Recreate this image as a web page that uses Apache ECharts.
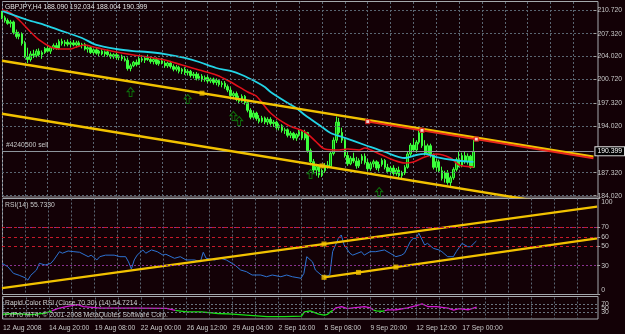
<!DOCTYPE html>
<html><head><meta charset="utf-8">
<script src="https://cdn.jsdelivr.net/npm/echarts@6/dist/echarts.min.js"></script>
<style>html,body{margin:0;padding:0;background:#130106;}#c{width:625px;height:334px;}</style>
</head><body><div id="c"></div>
<script>
// ---------- data ----------
const timeLabels = ['12 Aug 2008','14 Aug 20:00','19 Aug 08:00','22 Aug 00:00','26 Aug 12:00','29 Aug 04:00','2 Sep 16:00','5 Sep 08:00','9 Sep 20:00','12 Sep 12:00','17 Sep 00:00'];
const barsPerLabel = 16;
const slotCount = 208;
const priceTicks = [210.72, 207.32, 204.02, 200.72, 197.32, 194.02, 187.32, 184.02];
const rsiTicks = [0, 30, 50, 60, 70, 100];
const crsiTicks = [0, 30, 50, 70, 100];
const bidPrice = 190.399;
const titleText = 'GBPJPY,H4 188.090 192.034 188.004 190.399';
const orderText = '#4240500 sell';
const rsiText = 'RSI(14) 55.7330';
const crsiText = 'Rapid Color RSI (Close,70,30) (14) 54.7214';
const copyText = 'FxPro MT4, \u00a9 2001-2008 MetaQuotes Software Corp.';

// candles: [open, close, low, high]
const candles = [
[210.3,209.6,209.4,210.6],[209.6,209.2,208.9,209.9],[209.2,208.8,208.6,209.5],[208.8,209.0,208.2,209.3],
[209.0,207.5,207.2,209.2],[207.5,206.9,206.6,207.9],[206.9,207.3,206.5,207.6],[207.3,205.9,205.6,207.5],
[205.9,204.0,203.8,206.3],[204.0,203.6,203.1,205.3],[203.6,204.4,203.3,204.8],[204.4,204.2,203.8,205.0],
[204.2,204.8,203.9,205.1],[204.8,204.3,204.0,205.2],[204.3,204.6,203.7,204.9],[204.6,205.2,204.4,205.4],
[205.2,204.8,204.6,205.6],[204.8,205.3,204.4,205.5],[205.3,205.6,205.0,205.9],[205.6,205.2,205.0,206.0],
[205.2,206.2,205.0,206.5],[206.2,205.9,205.6,206.6],[205.9,206.1,205.5,206.4],[206.1,205.8,205.5,206.5],
[205.8,206.0,205.4,206.3],[206.0,205.7,205.5,206.4],[205.7,206.0,205.3,206.3],[206.0,205.6,205.4,206.3],
[205.6,205.8,205.2,206.0],[205.8,205.1,204.9,206.0],[205.1,205.3,204.6,205.5],[205.3,204.6,204.4,205.5],
[204.6,205.0,204.3,205.2],[205.0,204.5,204.3,205.3],[204.5,204.8,204.1,205.0],[204.8,204.4,204.2,205.1],
[204.4,204.7,204.0,204.9],[204.7,204.3,204.1,205.0],[204.3,204.0,203.7,204.6],[204.0,204.3,203.7,204.5],
[204.3,203.9,203.6,204.6],[203.9,204.1,203.5,204.3],[204.1,203.7,203.4,204.3],[203.7,203.5,203.3,204.1],
[203.5,202.3,202.0,203.9],[202.3,202.7,201.9,203.0],[202.7,203.2,202.5,203.4],[203.2,202.9,202.6,203.6],
[202.9,203.7,202.8,204.0],[203.7,203.5,203.2,204.2],[203.5,203.8,203.1,204.0],[203.8,203.6,203.4,204.3],
[203.6,203.3,203.0,204.1],[203.3,203.6,202.9,203.8],[203.6,203.0,202.8,203.9],[203.0,203.4,202.7,203.6],
[203.4,203.1,202.9,203.8],[203.1,202.7,202.4,203.4],[202.7,203.1,202.4,203.3],[203.1,202.6,202.3,203.4],
[202.6,202.2,201.9,202.9],[202.2,202.5,201.9,202.8],[202.5,201.9,201.6,202.7],[201.9,202.2,201.5,202.4],
[202.2,201.7,201.4,202.5],[201.7,201.9,201.3,202.2],[201.9,201.3,201.0,202.1],[201.3,201.5,200.9,201.8],
[201.5,200.9,200.6,201.8],[200.9,201.2,200.6,201.6],[201.2,200.7,200.4,201.5],[200.7,201.0,200.4,201.3],
[201.0,200.5,200.2,201.3],[200.5,200.8,200.2,201.0],[200.8,200.3,200.0,201.0],[200.3,200.6,199.9,200.9],
[200.6,200.0,199.7,200.8],[200.0,200.2,199.6,200.5],[200.2,199.7,199.4,200.5],[199.7,199.2,198.9,200.0],
[199.2,198.4,198.0,199.6],[198.4,198.7,197.9,199.0],[198.7,197.9,197.6,199.0],[197.9,197.6,197.3,198.4],
[197.6,198.3,197.4,198.6],[198.3,197.4,197.1,198.5],[197.4,196.3,196.0,197.6],[196.3,195.3,195.0,196.6],
[195.3,195.9,195.1,196.2],[195.9,195.1,194.8,196.1],[195.1,194.7,194.4,195.6],[194.7,195.2,194.5,195.5],
[195.2,194.6,194.3,195.4],[194.6,195.0,194.2,195.3],[195.0,194.4,194.1,195.3],[194.4,194.6,193.9,194.9],
[194.6,193.8,193.5,194.8],[193.8,194.1,193.4,194.4],[194.1,193.4,193.1,194.3],[193.4,193.5,192.9,193.8],
[193.5,192.7,192.4,193.7],[192.7,193.0,192.3,193.3],[193.0,192.3,192.0,193.2],[192.3,192.8,191.9,193.0],
[192.8,193.2,192.5,193.5],[193.2,192.3,192.0,193.4],[192.3,193.1,192.0,193.5],[193.1,190.5,190.2,193.2],
[190.5,188.9,188.4,190.8],[188.9,187.7,187.3,189.3],[187.7,188.2,186.9,188.6],[188.2,187.0,186.6,188.5],
[187.0,187.6,186.7,187.9],[187.6,188.4,187.3,188.7],[188.4,188.2,187.9,189.0],[188.2,190.1,188.0,190.4],
[190.1,192.0,189.8,192.4],[192.0,194.6,191.6,195.4],[194.6,193.1,192.8,195.2],[193.1,192.0,191.6,193.8],
[192.0,189.8,189.5,192.3],[189.8,188.6,188.3,190.3],[188.6,189.4,188.4,189.7],[189.4,189.0,188.7,190.2],
[189.0,188.3,187.9,189.6],[188.3,189.1,188.0,189.4],[189.1,189.7,188.6,190.0],[189.7,188.8,188.5,190.1],
[188.8,187.9,187.6,189.3],[187.9,188.6,187.6,188.9],[188.6,188.9,188.1,189.2],[188.9,188.0,187.7,189.1],
[188.0,188.5,187.5,188.9],[188.5,189.1,188.2,189.4],[189.1,188.1,187.8,189.3],[188.1,187.5,187.2,188.6],
[187.5,188.0,187.1,188.3],[188.0,187.2,186.9,188.4],[187.2,187.7,186.9,188.0],[187.7,186.9,186.6,188.2],
[186.9,187.3,186.3,187.6],[187.3,188.1,187.0,188.4],[188.1,190.0,187.9,190.3],[190.0,191.3,189.7,191.6],
[191.3,190.6,190.3,192.3],[190.6,191.7,190.2,192.0],[191.7,193.1,191.4,193.5],[193.1,191.2,190.9,193.3],
[191.2,190.1,189.8,192.0],[190.1,191.2,189.9,191.5],[191.2,189.8,189.5,191.5],[189.8,188.1,187.8,190.1],
[188.1,188.9,187.5,189.3],[188.9,187.6,187.3,189.2],[187.6,186.5,186.2,188.2],[186.5,187.3,185.9,187.6],
[187.3,185.9,185.6,187.7],[185.9,186.6,185.4,186.9],[186.6,187.8,186.3,188.1],[187.8,189.2,187.5,189.5],
[189.2,188.4,188.1,190.3],[188.4,189.8,188.1,190.2],[189.8,188.9,188.6,190.4],[188.9,189.7,188.5,190.1],
[189.7,188.09,187.9,189.9],[188.09,190.399,188.004,192.034]
];

// moving averages: [bar index, price]
const maRed = [[0,210.72],[3,210.29],[6,209.28],[10,207.56],[13,206.41],[17,205.40],[20,205.11],[24,205.11],[26,205.40],[29,205.69],[32,205.40],[35,205.11],[40,204.68],[46,204.25],[51,203.96],[57,203.53],[63,202.81],[69,202.09],[75,201.37],[80,200.37],[86,198.93],[89,198.35],[94,195.91],[100,194.19],[106,193.18],[110,191.74],[113,190.73],[118,190.59],[121,190.73],[125,190.59],[127,190.88],[129,190.59],[133,189.87],[137,189.15],[141,188.72],[144,188.87],[148,189.58],[152,190.02],[157,189.44],[160,188.43],[165,188.15]];
const maCyan = [[0,210.6],[9,209.28],[15,208.56],[20,207.84],[28,206.69],[33,205.69],[40,205.11],[46,204.82],[51,204.68],[57,204.39],[64,203.82],[69,203.24],[75,202.38],[80,201.95],[84,201.37],[89,200.37],[92,199.65],[94,198.93],[100,197.35],[103,196.63],[106,195.62],[112,193.90],[115,193.04],[120,192.32],[127,191.31],[134,190.30],[141,189.44],[145,189.87],[148,190.02],[152,189.58],[158,189.15],[165,188.87]];

// trend lines and marks: [bar index, price]
const upperTrend = [[0,203.42],[207,189.63]];
const redTrend = [[128,194.67],[207,189.41]];
const lowerTrend = [[0,195.80],[207,181.93]];
const yellowMarks = [[70,198.76],[112,188.30]];
const redMarks = [[128,194.67],[147,193.40],[166,192.14]];
const arrowMarks = [[45,198.93],[65,197.92],[81,195.48],[83,194.76],[108,187.14],[132,184.55]];

// RSI(14): [bar index, value]
const rsi = [[0,32.5],[2,29],[4,22],[6,20],[8,17.5],[9,15],[10,20],[12,25.5],[13,32.5],[15,30.7],[17,32.5],[18,36],[20,44.6],[21,43],[23,45.3],[25,44.6],[27,44],[30,39.4],[31,41],[33,36],[34,39.4],[36,41],[39,41],[41,39.4],[43,39.4],[44,34],[45,26.5],[46,36],[47,41],[49,46.4],[50,43],[52,46.4],[54,44.6],[56,41],[57,41.9],[60,37.7],[62,39.4],[64,36],[67,36],[69,34],[70,44],[71,37.7],[74,36],[76,37.7],[78,36],[81,30.7],[83,25.5],[85,23.8],[87,20.3],[90,20.3],[92,18.5],[94,20.3],[97,18.5],[99,20.3],[101,18.5],[104,16.9],[105,22],[106,39.4],[108,34],[109,25.5],[111,20.3],[112,18.5],[114,20.3],[115,44.6],[117,58.5],[118,62],[119,51.6],[121,43],[122,41],[125,44.6],[126,41],[128,44.6],[130,44.6],[133,46.4],[135,43],[137,39.4],[139,41],[140,43],[142,55],[143,58.5],[144,58.5],[145,63.8],[147,51.6],[148,53.3],[150,48.1],[152,46.4],[153,44.6],[155,39.4],[157,39.4],[158,44.6],[160,53.3],[162,49.8],[163,49.8],[165,55.733]];
const rsiLevelsRed = [70, 60, 50];
const rsiLevelsPurple = [70, 30];
const rsiTrendA = [[0,6.7],[207,91.5]];
const rsiTrendB = [[112,17.9],[207,58.5]];
const rsiMarks = [[112,52.6],[112,17.9],[124,23.0],[137,28.6]];

// Rapid Color RSI, segments by colour: [bar index, value]
const crsiGreenSegs = [
  [[0,22],[4,25.6],[10,20],[15,28],[17,38]],
  [[60,40.2],[64,33],[69,33],[75,25.6],[80,22.4],[92,11],[98,11],[104,13.6],[105,33],[107,37.6],[110,22.4],[112,18],[113,21],[114,33],[115,40]],
  [[129,42],[130,37.6],[132,36],[133,39]]
];
const crsiMagentaSegs = [
  [[17,38],[19,47.8],[22,58],[26,66.9],[28,58],[34,50.9],[46,50.9],[57,49],[60,40.2]],
  [[115,40],[116,52],[118,58],[120,47.8],[122,52],[126,58],[128,52],[129,42]],
  [[133,39],[134,42],[137,43],[141,52],[144,62.4],[146,70],[148,58],[151,58],[155,50.9],[157,41],[159,47.8],[162,43],[165,54.72]]
];
const crsiLevels = [70, 50, 30];

// ---------- chart ----------
const categories = [];
for (let i = 0; i < slotCount; i++) {
  categories.push(i % barsPerLabel === 0 && timeLabels[i / barsPerLabel] ? timeLabels[i / barsPerLabel] : '');
}

const FONT = 'Liberation Sans';
const FS = 6.8;
const TXT = '#c8c8c8';
const DOT = '#5a6672';
const YEL = '#f2c200';

function xAx(gi, showLabels) {
  return {
    type: 'category', gridIndex: gi, data: categories, boundaryGap: false,
    axisLine: {show: false}, axisTick: {show: false},
    axisLabel: showLabels ? {show: true, interval: 0, align: 'left', color: TXT, fontSize: FS, fontFamily: FONT, margin: 6} : {show: false},
    splitLine: {show: true, interval: (idx) => idx % 8 === 0, lineStyle: {color: DOT, type: [2, 2], width: 1}}
  };
}
function levelLines(values, color, type) {
  return {
    silent: true, symbol: 'none', animation: false, label: {show: false},
    lineStyle: {color: color, type: type, width: 1},
    data: values.map(v => ({yAxis: v}))
  };
}
const labelBase = {color: TXT, fontSize: FS, fontFamily: FONT};

const series = [
  {type: 'line', xAxisIndex: 0, yAxisIndex: 0, data: [], z: 1, markLine: levelLines(priceTicks, DOT, [2, 2])},
  {type: 'candlestick', xAxisIndex: 0, yAxisIndex: 0, data: candles, barWidth: 2, z: 3,
   itemStyle: {color: '#0a9a0a', color0: '#3cff3c', borderColor: '#3cff3c', borderColor0: '#3cff3c', borderWidth: 1},
   markLine: {silent: true, symbol: 'none', animation: false, lineStyle: {color: '#8d959c', type: 'solid', width: 1},
     data: [
       {yAxis: bidPrice, label: {show: true, position: 'end', formatter: bidPrice.toFixed(3), color: '#ffffff', backgroundColor: '#000000', borderColor: '#e0e0e0', borderWidth: 1, padding: [1, 2, 0, 2], fontSize: FS, fontFamily: FONT, distance: 2}},
       {yAxis: bidPrice, label: {show: true, position: 'insideStartTop', formatter: orderText, color: TXT, fontSize: FS, fontFamily: FONT, distance: [4, 3]}}
     ]}},
  {type: 'line', xAxisIndex: 0, yAxisIndex: 0, data: maRed, showSymbol: false, smooth: 0.3, z: 4, lineStyle: {color: '#e0101a', width: 1.6}},
  {type: 'line', xAxisIndex: 0, yAxisIndex: 0, data: maCyan, showSymbol: false, smooth: 0.3, z: 4, lineStyle: {color: '#22d4e6', width: 1.8}},
  {type: 'line', xAxisIndex: 0, yAxisIndex: 0, data: upperTrend, showSymbol: false, z: 5, lineStyle: {color: YEL, width: 2.4}},
  {type: 'line', xAxisIndex: 0, yAxisIndex: 0, data: redTrend, showSymbol: false, z: 5, lineStyle: {color: '#e8281e', width: 2}},
  {type: 'line', xAxisIndex: 0, yAxisIndex: 0, data: lowerTrend, showSymbol: false, z: 5, lineStyle: {color: YEL, width: 2.4}},
  {type: 'scatter', xAxisIndex: 0, yAxisIndex: 0, data: yellowMarks, symbol: 'rect', symbolSize: 5, z: 6, itemStyle: {color: YEL}},
  {type: 'scatter', xAxisIndex: 0, yAxisIndex: 0, data: redMarks, symbol: 'rect', symbolSize: 4, z: 6, itemStyle: {color: '#ffffff', borderColor: '#e01010', borderWidth: 1.2}},
  {type: 'scatter', xAxisIndex: 0, yAxisIndex: 0, data: arrowMarks, symbol: 'path://M5 0L10 5H7V11H3V5H0Z', symbolSize: [7, 9], z: 6,
   itemStyle: {color: 'rgba(0,0,0,0)', borderColor: '#0c8a0c', borderWidth: 1}},
  {type: 'line', xAxisIndex: 1, yAxisIndex: 1, data: [], z: 1, markLine: levelLines(rsiLevelsPurple, '#8a3290', [2, 2])},
  {type: 'line', xAxisIndex: 1, yAxisIndex: 1, data: [], z: 1, markLine: levelLines(rsiLevelsRed, '#c81a2a', [3, 3])},
  {type: 'line', xAxisIndex: 1, yAxisIndex: 1, data: rsi, showSymbol: false, z: 3, lineStyle: {color: '#2d72d2', width: 1}},
  {type: 'line', xAxisIndex: 1, yAxisIndex: 1, data: rsiTrendA, showSymbol: false, z: 4, lineStyle: {color: YEL, width: 2.4}},
  {type: 'line', xAxisIndex: 1, yAxisIndex: 1, data: rsiTrendB, showSymbol: false, z: 4, lineStyle: {color: YEL, width: 2.4}},
  {type: 'scatter', xAxisIndex: 1, yAxisIndex: 1, data: rsiMarks, symbol: 'rect', symbolSize: 5, z: 6, itemStyle: {color: YEL}},
  {type: 'line', xAxisIndex: 2, yAxisIndex: 2, data: [], z: 1, markLine: levelLines(crsiLevels, '#6a7480', [2, 2])}
];
crsiGreenSegs.forEach(seg => series.push({type: 'line', xAxisIndex: 2, yAxisIndex: 2, data: seg, showSymbol: false, z: 3, lineStyle: {color: '#18e018', width: 1.3}}));
crsiMagentaSegs.forEach(seg => series.push({type: 'line', xAxisIndex: 2, yAxisIndex: 2, data: seg, showSymbol: false, z: 3, lineStyle: {color: '#d018d0', width: 1.3}}));

const option = {
  backgroundColor: '#130106',
  animation: false,
  grid: [
    {left: 2, top: 2, width: 595.125, height: 195},
    {left: 2, top: 198.5, width: 595.125, height: 96},
    {left: 2, top: 297.5, width: 595.125, height: 21.5}
  ],
  xAxis: [xAx(0, false), xAx(1, false), xAx(2, true)],
  yAxis: [
    {type: 'value', gridIndex: 0, position: 'right', min: 183.83, max: 211.87,
     axisLine: {show: false}, splitLine: {show: false},
     axisTick: {show: true, customValues: priceTicks, length: 3, lineStyle: {color: '#a0a0a0'}},
     axisLabel: Object.assign({customValues: priceTicks, formatter: v => v.toFixed(3), margin: 4}, labelBase)},
    {type: 'value', gridIndex: 1, position: 'right', min: 0, max: 100,
     axisLine: {show: false}, splitLine: {show: false},
     axisTick: {show: true, customValues: rsiTicks, length: 3, lineStyle: {color: '#a0a0a0'}},
     axisLabel: Object.assign({customValues: rsiTicks, margin: 4,
       formatter: v => v === 100 ? '{t|100}' : (v === 0 ? '{b|0}' : String(v)),
       rich: {t: Object.assign({padding: [7, 0, 0, 0]}, labelBase), b: Object.assign({padding: [0, 0, 9, 0]}, labelBase)}}, labelBase)},
    {type: 'value', gridIndex: 2, position: 'right', min: 0, max: 100,
     axisLine: {show: false}, splitLine: {show: false},
     axisTick: {show: false},
     axisLabel: Object.assign({customValues: crsiTicks, margin: 4, hideOverlap: false,
       formatter: v => v === 100 ? '{t|100}' : (v === 0 ? '{b|0}' : String(v)),
       rich: {t: Object.assign({padding: [5, 0, 0, 0]}, labelBase), b: Object.assign({padding: [0, 0, 4, 0]}, labelBase)}}, labelBase)}
  ],
  series: series,
  graphic: [
    {type: 'rect', silent: true, shape: {x: 2.5, y: 1.5, width: 595.5, height: 195.5}, style: {fill: null, stroke: '#a4a8ac', lineWidth: 1}},
    {type: 'rect', silent: true, shape: {x: 2.5, y: 198.5, width: 595.5, height: 96}, style: {fill: null, stroke: '#a4a8ac', lineWidth: 1}},
    {type: 'rect', silent: true, shape: {x: 2.5, y: 296.5, width: 595.5, height: 22.5}, style: {fill: null, stroke: '#a4a8ac', lineWidth: 1}},
    {type: 'text', silent: true, x: 5, y: 7, z: 10, style: {text: titleText, fill: '#e4e4e4', font: FS + 'px "Liberation Sans"', verticalAlign: 'middle'}},
    {type: 'text', silent: true, x: 5, y: 205, z: 10, style: {text: rsiText, fill: TXT, font: FS + 'px "Liberation Sans"', verticalAlign: 'middle'}},
    {type: 'text', silent: true, x: 5, y: 303.5, z: 10, style: {text: crsiText, fill: TXT, font: FS + 'px "Liberation Sans"', verticalAlign: 'middle'}},
    {type: 'text', silent: true, x: 5, y: 315.5, z: 10, style: {text: copyText, fill: TXT, font: FS + 'px "Liberation Sans"', verticalAlign: 'middle'}}
  ]
};
const chart = echarts.init(document.getElementById('c'), null, {renderer: 'canvas'});
chart.setOption(option);
</script>
</body></html>
